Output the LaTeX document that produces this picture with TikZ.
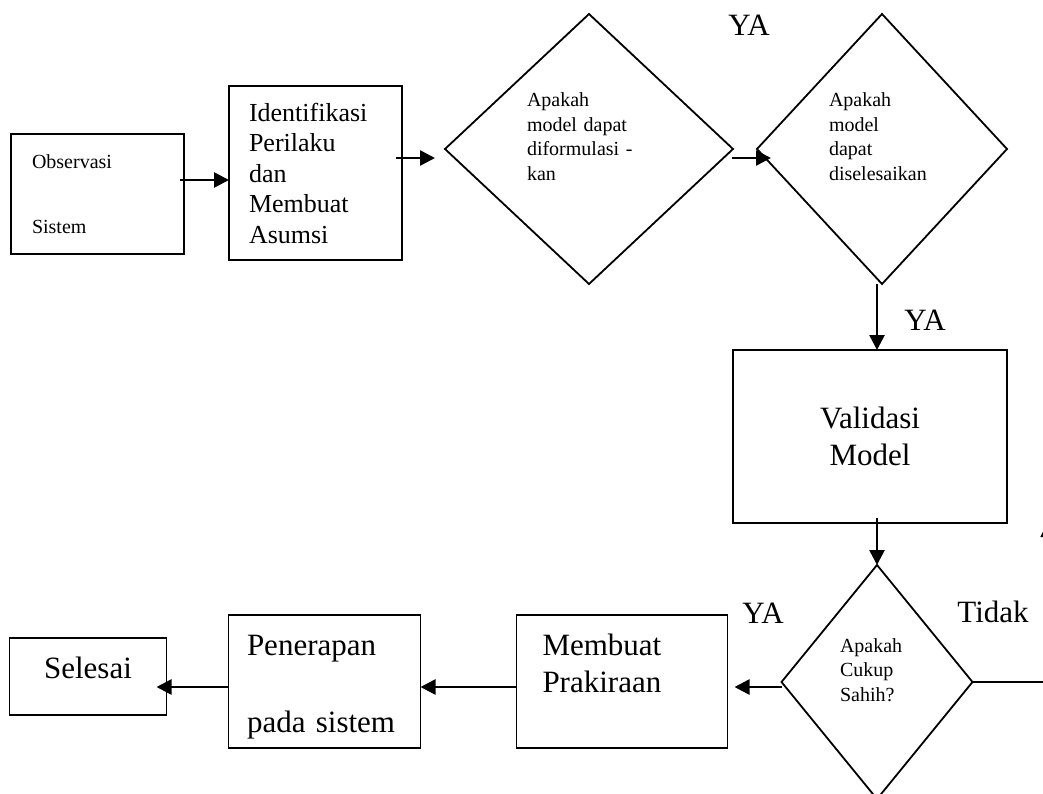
\documentclass[tikz,border=0pt]{standalone}
\usepackage{fontspec}
\setmainfont{Liberation Serif}
\usepackage{tikz}
\usetikzlibrary{arrows.meta,positioning,shapes.geometric}
\newcommand\txtsmall{\fontsize{20}{24.5}\selectfont}
\newcommand\txtmid{\fontsize{26}{30.5}\selectfont}
\newcommand\txtbig{\fontsize{31}{37}\selectfont}

\begin{document}
\begin{tikzpicture}[x=1pt,y=1pt,
  box/.style={draw,line width=1.8pt,align=left,inner ysep=2pt,outer sep=0pt},
  smallbox/.style={box,font=\txtsmall,inner xsep=21pt},
  bigbox/.style={box,font=\txtbig},
  ask/.style={draw,diamond,line width=1.8pt,inner sep=0pt,outer sep=0pt,
    align=left,font=\txtsmall},
  arrow/.style={-{Triangle[length=15pt,width=15pt]},line width=2.6pt},
  thinarrow/.style={-{Triangle[length=15pt,width=15pt]},line width=1.8pt},
  tag/.style={font=\txtbig}]
  \useasboundingbox (0,0) rectangle (1043,-794);
  \node[smallbox,text width=131pt,minimum height=120pt] (obs) at (97.5,-194)
    {Observasi\\[40.5pt]Sistem};
  \node[box,font=\txtmid,inner xsep=20pt,text width=133pt,minimum height=174pt,
    right=45pt of obs,yshift=21pt] (ident)
    {Identifikasi\\Perilaku\\dan\\Membuat\\Asumsi};
  \node[ask,text width=124pt,minimum width=288pt,minimum height=270pt,
    right=43pt of ident,yshift=24pt] (dec1)
    {Apakah\\model dapat\\diformulasi -\\kan\\\mbox{}};
  \node[ask,text width=106pt,minimum width=250pt,minimum height=270pt,
    right=24pt of dec1] (dec2)
    {Apakah\\model\\dapat\\diselesaikan\\\mbox{}};
  \node[bigbox,align=center,minimum width=274pt,minimum height=173pt,
    below=66pt of dec2,xshift=-12pt] (valid) {Validasi\\Model};
  \node[ask,text width=74pt,minimum width=191pt,minimum height=234pt,
    below=42pt of valid,xshift=7pt] (dec3) {Apakah\\Cukup\\Sahih?\\\mbox{}};
  \node[bigbox,inner xsep=26pt,text width=159pt,minimum height=133pt,
    left=54pt of dec3,yshift=0.5pt] (mem) {Membuat\\Prakiraan\\\mbox{}};
  \node[bigbox,inner xsep=18.5pt,text width=155pt,minimum height=133pt,
    text height=31pt,left=96pt of mem] (pen) {Penerapan\\[40pt]pada sistem};
  \node[bigbox,align=center,text depth=18pt,minimum width=157pt,minimum height=77pt,
    left=62pt of pen,yshift=5pt] (sel) {Selesai};
  \node[tag] (ya1) at (749,-25) {YA};
  \node[tag] (ya2) at (925,-320) {YA};
  \node[tag] (ya3) at (763,-613) {YA};
  \node[tag] (tidak) at (993,-612) {Tidak};
  \coordinate (back) at (1048,-522);
  \draw[arrow] ([xshift=-4pt,yshift=14pt]obs.east) -- ([yshift=-7pt]ident.west);
  \draw[arrow] ([xshift=-6pt,yshift=15pt]ident.east) -- ([xshift=-10pt,yshift=-9pt]dec1.west);
  \draw[arrow] ([xshift=-1pt,yshift=-9pt]dec1.east) -- ([xshift=14pt,yshift=-9pt]dec2.west);
  \draw[arrow] ([xshift=-5pt]dec2.south) -- ([xshift=7pt]valid.north);
  \draw[arrow] ([xshift=7pt,yshift=5pt]valid.south) -- (dec3.north);
  \draw[arrow] ([yshift=-5pt]dec3.west) -- ([xshift=7pt,yshift=-5.5pt]mem.east);
  \draw[arrow] ([yshift=-5.5pt]mem.west) -- ([yshift=-5.5pt]pen.east);
  \draw[arrow] ([yshift=-5.5pt]pen.west) -- ([xshift=-10pt,yshift=-10.5pt]sel.east);
  \draw[thinarrow] (dec3.east) -| (back);
\end{tikzpicture}
\end{document}
